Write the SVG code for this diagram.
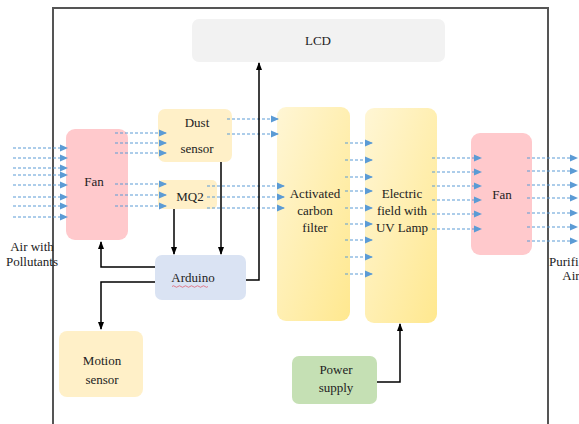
<svg xmlns="http://www.w3.org/2000/svg" width="579" height="424" viewBox="0 0 579 424">
<defs>
<marker id="ba" viewBox="0 0 8 8" refX="7" refY="4" markerWidth="8" markerHeight="8" markerUnits="userSpaceOnUse" orient="auto"><path d="M0,0.5 L8,4 L0,7.5 Z" fill="#5B9BD5"/></marker>
<marker id="ka" viewBox="0 0 8 8" refX="7" refY="4" markerWidth="8" markerHeight="8" markerUnits="userSpaceOnUse" orient="auto"><path d="M0,1 L8,4 L0,7 Z" fill="#000"/></marker>
<linearGradient id="yg" x1="0" y1="0" x2="1" y2="1"><stop offset="0" stop-color="#FFF6D5"/><stop offset="1" stop-color="#FFE88F"/></linearGradient>
</defs>
<style>
text{font-family:'Liberation Serif','DejaVu Serif',serif;font-size:13px;fill:#222;text-anchor:middle}
.d{stroke:#5B9BD5;stroke-width:1;stroke-dasharray:3 2;fill:none;marker-end:url(#ba)}
.k{stroke:#000;stroke-width:1.5;fill:none;marker-end:url(#ka)}
</style>
<rect width="579" height="424" fill="#fff"/>
<path d="M53,430 V8 H548 V430" fill="none" stroke="#555" stroke-width="2"/>
<g font-family="Liberation Serif, DejaVu Serif, serif">
<g id="lcd"><rect x="192" y="19" width="253" height="43" rx="7" fill="#F2F2F2"/><text x="318" y="45">LCD</text></g>
<g id="fan1"><rect x="66" y="129" width="62" height="111" rx="9" fill="#FFC9CC"/><text x="94" y="186">Fan</text></g>
<g id="dust"><rect x="158" y="109" width="74" height="53" rx="7" fill="#FFF0C8"/><text x="197" y="127">Dust</text><text x="197" y="153">sensor</text></g>
<g id="mq2"><rect x="158" y="180" width="59" height="29" rx="5" fill="#FFF0C8"/><text x="190" y="201">MQ2</text></g>
<g id="arduino"><rect x="155" y="255" width="91" height="45" rx="7" fill="#DAE3F3"/><text x="193" y="282">Arduino</text><path d="M172,286.5 q1.5,-1.5 3,0 t3,0 t3,0 t3,0 t3,0 t3,0 t3,0 t3,0 t3,0 t3,0 t3,0 t3,0" stroke="#E06070" stroke-width="0.8" fill="none"/></g>
<g id="motion"><rect x="59" y="331" width="84" height="66" rx="8" fill="#FFF0C8"/><text x="102" y="365">Motion</text><text x="102" y="384">sensor</text></g>
<g id="carbon"><rect x="277" y="107" width="73" height="214" rx="9" fill="url(#yg)"/><text x="315" y="198">Activated</text><text x="315" y="215">carbon</text><text x="315" y="232">filter</text></g>
<g id="electric"><rect x="365" y="108" width="72" height="215" rx="9" fill="url(#yg)"/><text x="402" y="198">Electric</text><text x="402" y="215">field with</text><text x="402" y="232">UV Lamp</text></g>
<g id="fan2"><rect x="471" y="133" width="61" height="122" rx="9" fill="#FFC9CC"/><text x="502" y="199">Fan</text></g>
<g id="power"><rect x="292" y="356" width="85" height="48" rx="7" fill="#C5E0B4"/><text x="336" y="374">Power</text><text x="336" y="392">supply</text></g>
<g id="labels"><text x="32" y="251">Air with</text><text x="32" y="266">Pollutants</text><text x="570" y="266">Purified</text><text x="571" y="280">Air</text></g>
</g>
<g id="connectors">
<line class="d" x1="13" y1="148" x2="67" y2="148"/><line class="d" x1="13" y1="158" x2="67" y2="158"/><line class="d" x1="13" y1="168" x2="67" y2="168"/><line class="d" x1="13" y1="175" x2="67" y2="175"/><line class="d" x1="13" y1="185" x2="67" y2="185"/><line class="d" x1="13" y1="197" x2="67" y2="197"/><line class="d" x1="13" y1="206" x2="67" y2="206"/><line class="d" x1="13" y1="217" x2="67" y2="217"/>
<line class="d" x1="115" y1="133" x2="166" y2="133"/><line class="d" x1="115" y1="143" x2="166" y2="143"/><line class="d" x1="115" y1="153" x2="166" y2="153"/><line class="d" x1="115" y1="184" x2="166" y2="184"/><line class="d" x1="115" y1="195" x2="166" y2="195"/><line class="d" x1="115" y1="206" x2="166" y2="206"/>
<line class="d" x1="227" y1="119" x2="278" y2="119"/><line class="d" x1="227" y1="134" x2="278" y2="134"/>
<line class="d" x1="207" y1="186" x2="284" y2="186"/><line class="d" x1="207" y1="197" x2="284" y2="197"/><line class="d" x1="207" y1="208" x2="284" y2="208"/>
<line class="d" x1="345" y1="143" x2="372" y2="143"/><line class="d" x1="345" y1="160" x2="372" y2="160"/><line class="d" x1="345" y1="177" x2="372" y2="177"/><line class="d" x1="345" y1="191" x2="372" y2="191"/><line class="d" x1="345" y1="208" x2="372" y2="208"/><line class="d" x1="345" y1="224" x2="372" y2="224"/><line class="d" x1="345" y1="240" x2="372" y2="240"/><line class="d" x1="345" y1="257" x2="372" y2="257"/><line class="d" x1="345" y1="274" x2="372" y2="274"/>
<line class="d" x1="432" y1="158" x2="481" y2="158"/><line class="d" x1="432" y1="172" x2="481" y2="172"/><line class="d" x1="432" y1="186" x2="481" y2="186"/><line class="d" x1="432" y1="200" x2="481" y2="200"/><line class="d" x1="432" y1="214" x2="481" y2="214"/><line class="d" x1="432" y1="229" x2="481" y2="229"/>
<line class="d" x1="527" y1="158" x2="577" y2="158"/><line class="d" x1="527" y1="171" x2="577" y2="171"/><line class="d" x1="527" y1="185" x2="577" y2="185"/><line class="d" x1="527" y1="198" x2="577" y2="198"/><line class="d" x1="527" y1="213" x2="577" y2="213"/><line class="d" x1="527" y1="227" x2="577" y2="227"/><line class="d" x1="527" y1="241" x2="577" y2="241"/>
<path class="k" d="M174,209V254"/>
<path class="k" d="M221,162V254"/>
<path class="k" d="M246,280H259V63"/>
<path class="k" d="M155,267H101V242"/>
<path class="k" d="M155,282H101V329"/>
<path class="k" d="M377,382H400V324"/>
</g>
</svg>
